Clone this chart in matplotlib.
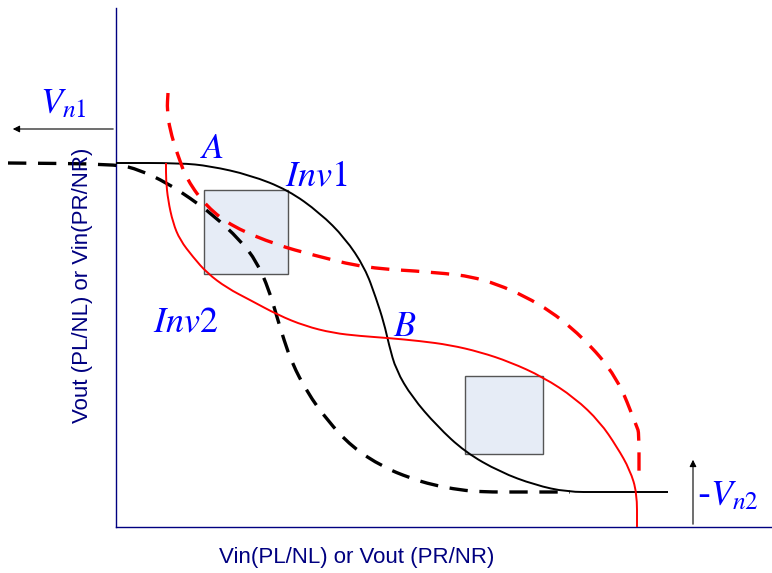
import matplotlib.pyplot as plt
import matplotlib.patches as patches
from matplotlib.path import Path

# canvas is laid out in pixel units (origin top-left)
W, H = 772, 573

# Inv1 transfer curve (solid black)
inv1_x = [116, 180, 210, 250, 288, 320, 345, 365, 376, 384, 389, 396, 412, 437, 465, 500, 535, 567, 600, 668]
inv1_y = [163, 163, 166, 175, 190, 213, 238, 268, 298, 323, 345, 370, 397, 426, 452, 472, 485, 492, 492, 492]

# Inv1 shifted by noise (dashed black)
inv1n_x = [8, 116, 140, 167, 190, 213, 240, 257, 269, 277, 284, 292, 307, 327, 352, 383, 410, 433, 460, 483, 520, 570]
inv1n_y = [163, 164, 170, 183, 198, 215, 240, 262, 290, 317, 340, 363, 392, 420, 447, 467, 478, 485, 490, 492, 492, 492]

# Inv2 transfer curve (solid red)
inv2_x = [637, 637, 630, 617, 600, 575, 543, 510, 480, 450, 420, 388, 360, 333, 305, 278, 250, 227, 207, 193, 180, 173, 168, 166, 166]
inv2_y = [527, 493, 470, 447, 422, 398, 377, 362, 352, 345, 341, 338, 336, 333, 326, 315, 300, 288, 273, 257, 240, 223, 200, 180, 163]

# Inv2 shifted by noise (dashed red)
inv2n_x = [168, 167, 170, 177, 187, 207, 233, 277, 313, 365, 433, 483, 540, 583, 617, 637, 639, 639]
inv2n_y = [93, 110, 130, 153, 180, 207, 227, 245, 255, 268, 272, 278, 303, 337, 377, 427, 433, 475]

# noise margin squares: (left, top, size)
squares = [(204, 190, 84), (465, 376, 78)]


def smooth_path(xs, ys):
    # quadratic Bezier through segment midpoints, points act as control points
    pts = list(zip(xs, ys))
    verts = [pts[0]]
    codes = [Path.MOVETO]
    mid = lambda a, b: ((a[0] + b[0]) / 2, (a[1] + b[1]) / 2)
    verts.append(mid(pts[0], pts[1]))
    codes.append(Path.LINETO)
    for i in range(1, len(pts) - 1):
        verts += [pts[i], mid(pts[i], pts[i + 1])]
        codes += [Path.CURVE3, Path.CURVE3]
    verts.append(pts[-1])
    codes.append(Path.LINETO)
    return Path(verts, codes)


def draw_curve(ax, xs, ys, **kw):
    ax.add_patch(patches.PathPatch(smooth_path(xs, ys), facecolor='none', capstyle='butt', **kw))


fig = plt.figure(figsize=(W / 100, H / 100), dpi=100)
ax = fig.add_axes([0, 0, 1, 1])
ax.set_xlim(0, W)
ax.set_ylim(H, 0)
ax.axis('off')
plt.rcParams['mathtext.fontset'] = 'stix'

navy = '#000080'
ax.plot([116, 116], [8, 527], color=navy, lw=1.0)
ax.plot([116, W], [527, 527], color=navy, lw=1.0)

for x0, y0, s in squares:
    ax.add_patch(patches.Rectangle((x0, y0), s, s, facecolor='#e6ecf6',
                                   edgecolor='#555555', lw=1.0, zorder=1))

draw_curve(ax, inv1_x, inv1_y, edgecolor='black', lw=1.4, zorder=3)
draw_curve(ax, inv1n_x, inv1n_y, edgecolor='black', lw=2.4, ls=(0, (5.5, 3.5)), zorder=3)
draw_curve(ax, inv2_x, inv2_y, edgecolor='red', lw=1.4, zorder=3)
draw_curve(ax, inv2n_x, inv2n_y, edgecolor='red', lw=2.4, ls=(0, (5.5, 3.5)), zorder=3)

# noise source arrows
ax.annotate('', xy=(10, 129), xytext=(116, 129),
            arrowprops=dict(arrowstyle='-|>', color='black', lw=0.8, mutation_scale=10))
ax.annotate('', xy=(693, 457), xytext=(693, 527),
            arrowprops=dict(arrowstyle='-|>', color='black', lw=0.8, mutation_scale=10))

lbl = dict(color='blue', fontsize=26)
ax.text(40, 113, r'$V_{n1}$', ha='left', va='baseline', **lbl)
ax.text(697, 505, r'-$V_{n2}$', ha='left', va='baseline', **lbl)
ax.text(200, 158, r'$A$', ha='left', va='baseline', **lbl)
ax.text(285, 185, r'$Inv1$', ha='left', va='baseline', **lbl)
ax.text(153, 332, r'$Inv2$', ha='left', va='baseline', **lbl)
ax.text(393, 336, r'$B$', ha='left', va='baseline', **lbl)

ax.text(357, 557, 'Vin(PL/NL) or Vout (PR/NR)', color=navy, fontsize=16,
        family='Liberation Sans', ha='center', va='center')
ax.text(83, 285, 'Vout (PL/NL) or Vin(PR/NR)', color=navy, fontsize=16,
        family='Liberation Sans', ha='center', va='center', rotation=90)

fig.savefig('out.png', dpi=100)
